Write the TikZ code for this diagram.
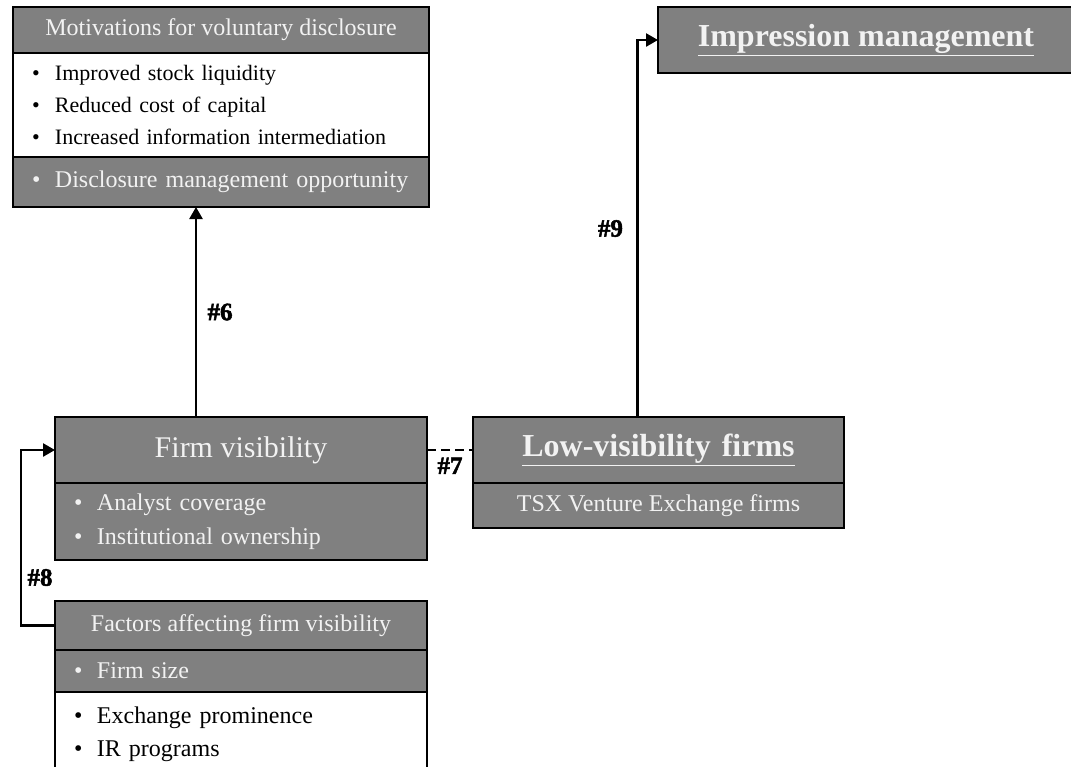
\documentclass[tikz,border=0pt]{standalone}
\usepackage{fontspec}
\setmainfont{Liberation Serif}
\newfontfamily\tagfont[FakeBold=2]{Liberation Serif}
\usetikzlibrary{positioning,arrows.meta}

\definecolor{BoxGrey}{RGB}{128, 128, 128}
\definecolor{BoxText}{RGB}{242, 242, 242}
\newcommand{\itm}[1]{\makebox[23pt][l]{\textbullet}#1}

\begin{document}
\begin{tikzpicture}[x=1pt, y=-1pt, node distance=0pt,
  greybox/.style={draw, line width=1.6pt, fill=BoxGrey, text=BoxText, inner sep=0pt, outer sep=0pt, align=center},
  whitebox/.style={draw, line width=1.6pt, fill=white, text=black, inner sep=0pt, outer sep=0pt},
  listbox/.style={align=left, inner xsep=19pt, text width=#1},
  link/.style={line width=2.5pt, -{Triangle[length=12pt, width=13pt]}},
  tag/.style={font=\fontsize{25}{25}\tagfont\bfseries}]

\path[use as bounding box, clip] (0,0) rectangle (1071,766);

% motivations
\node[greybox, anchor=north west, minimum width=416pt, minimum height=46pt, font=\fontsize{24}{24}\selectfont] (motivhead) at (13,7) {Motivations for voluntary disclosure};
\node[whitebox, below=of motivhead, minimum height=104pt, listbox=378pt, font=\fontsize{22}{32}\selectfont] (motivlist) {\itm{Improved stock liquidity}\\\itm{Reduced cost of capital}\\\itm{Increased information intermediation}};
\node[greybox, below=of motivlist, minimum height=50pt, listbox=378pt, font=\fontsize{24}{24}\selectfont] (motivopp) {\itm{Disclosure management opportunity}};

% firm visibility
\node[greybox, anchor=north west, minimum width=372pt, minimum height=66pt, font=\fontsize{30}{30}\selectfont] (firmhead) at (55,417) {Firm visibility};
\node[greybox, below=of firmhead, minimum height=77pt, listbox=334pt, font=\fontsize{24}{34}\selectfont] (firmlist) {\itm{Analyst coverage}\\\itm{Institutional ownership}};

% factors
\node[greybox, anchor=north west, minimum width=372pt, minimum height=49pt, font=\fontsize{24}{24}\selectfont] (facthead) at (55,601) {Factors affecting firm visibility};
\node[greybox, below=of facthead, minimum height=42pt, listbox=334pt, font=\fontsize{24}{24}\selectfont] (factsize) {\itm{Firm size}};
\node[whitebox, below=of factsize, minimum height=84pt, listbox=334pt, font=\fontsize{24}{33}\selectfont] (factlist) {\itm{Exchange prominence}\\\itm{IR programs}};

% low visibility
\node[greybox, anchor=north west, minimum width=371pt, minimum height=66pt, font=\fontsize{32}{32}\selectfont\bfseries] (lowhead) at (473,417) {\underline{Low-visibility\hspace{3pt} firms}};
\node[greybox, below=of lowhead, minimum width=371pt, minimum height=45pt, font=\fontsize{24}{24}\selectfont] (lowsub) {TSX Venture Exchange firms};

% impression management
\node[greybox, anchor=north west, minimum width=416pt, minimum height=66pt, font=\fontsize{32}{32}\selectfont\bfseries] (imprhead) at (658,7) {\underline{Impression management}};

% links
\draw[link] ([xshift=-45pt]firmhead.north) coordinate (foot6) -- (foot6 |- motivopp.south) node[tag, midway, right=7pt] {\#6};
\draw[line width=2.5pt, dash pattern=on 9pt off 5pt] (firmhead.east) -- (lowhead.west) node[tag, midway, below=3pt] {\#7};
\draw[link] (facthead.west) -- ++(-34,0) coordinate (bend8) |- (firmhead.west);
\node[tag, anchor=west] (tag8) at ([xshift=3pt, yshift=48pt]bend8) {\#8};
\draw[link] ([xshift=-21pt]lowhead.north) |- (imprhead.west) node[tag, pos=0.25, left=10pt] {\#9};

\end{tikzpicture}
\end{document}
